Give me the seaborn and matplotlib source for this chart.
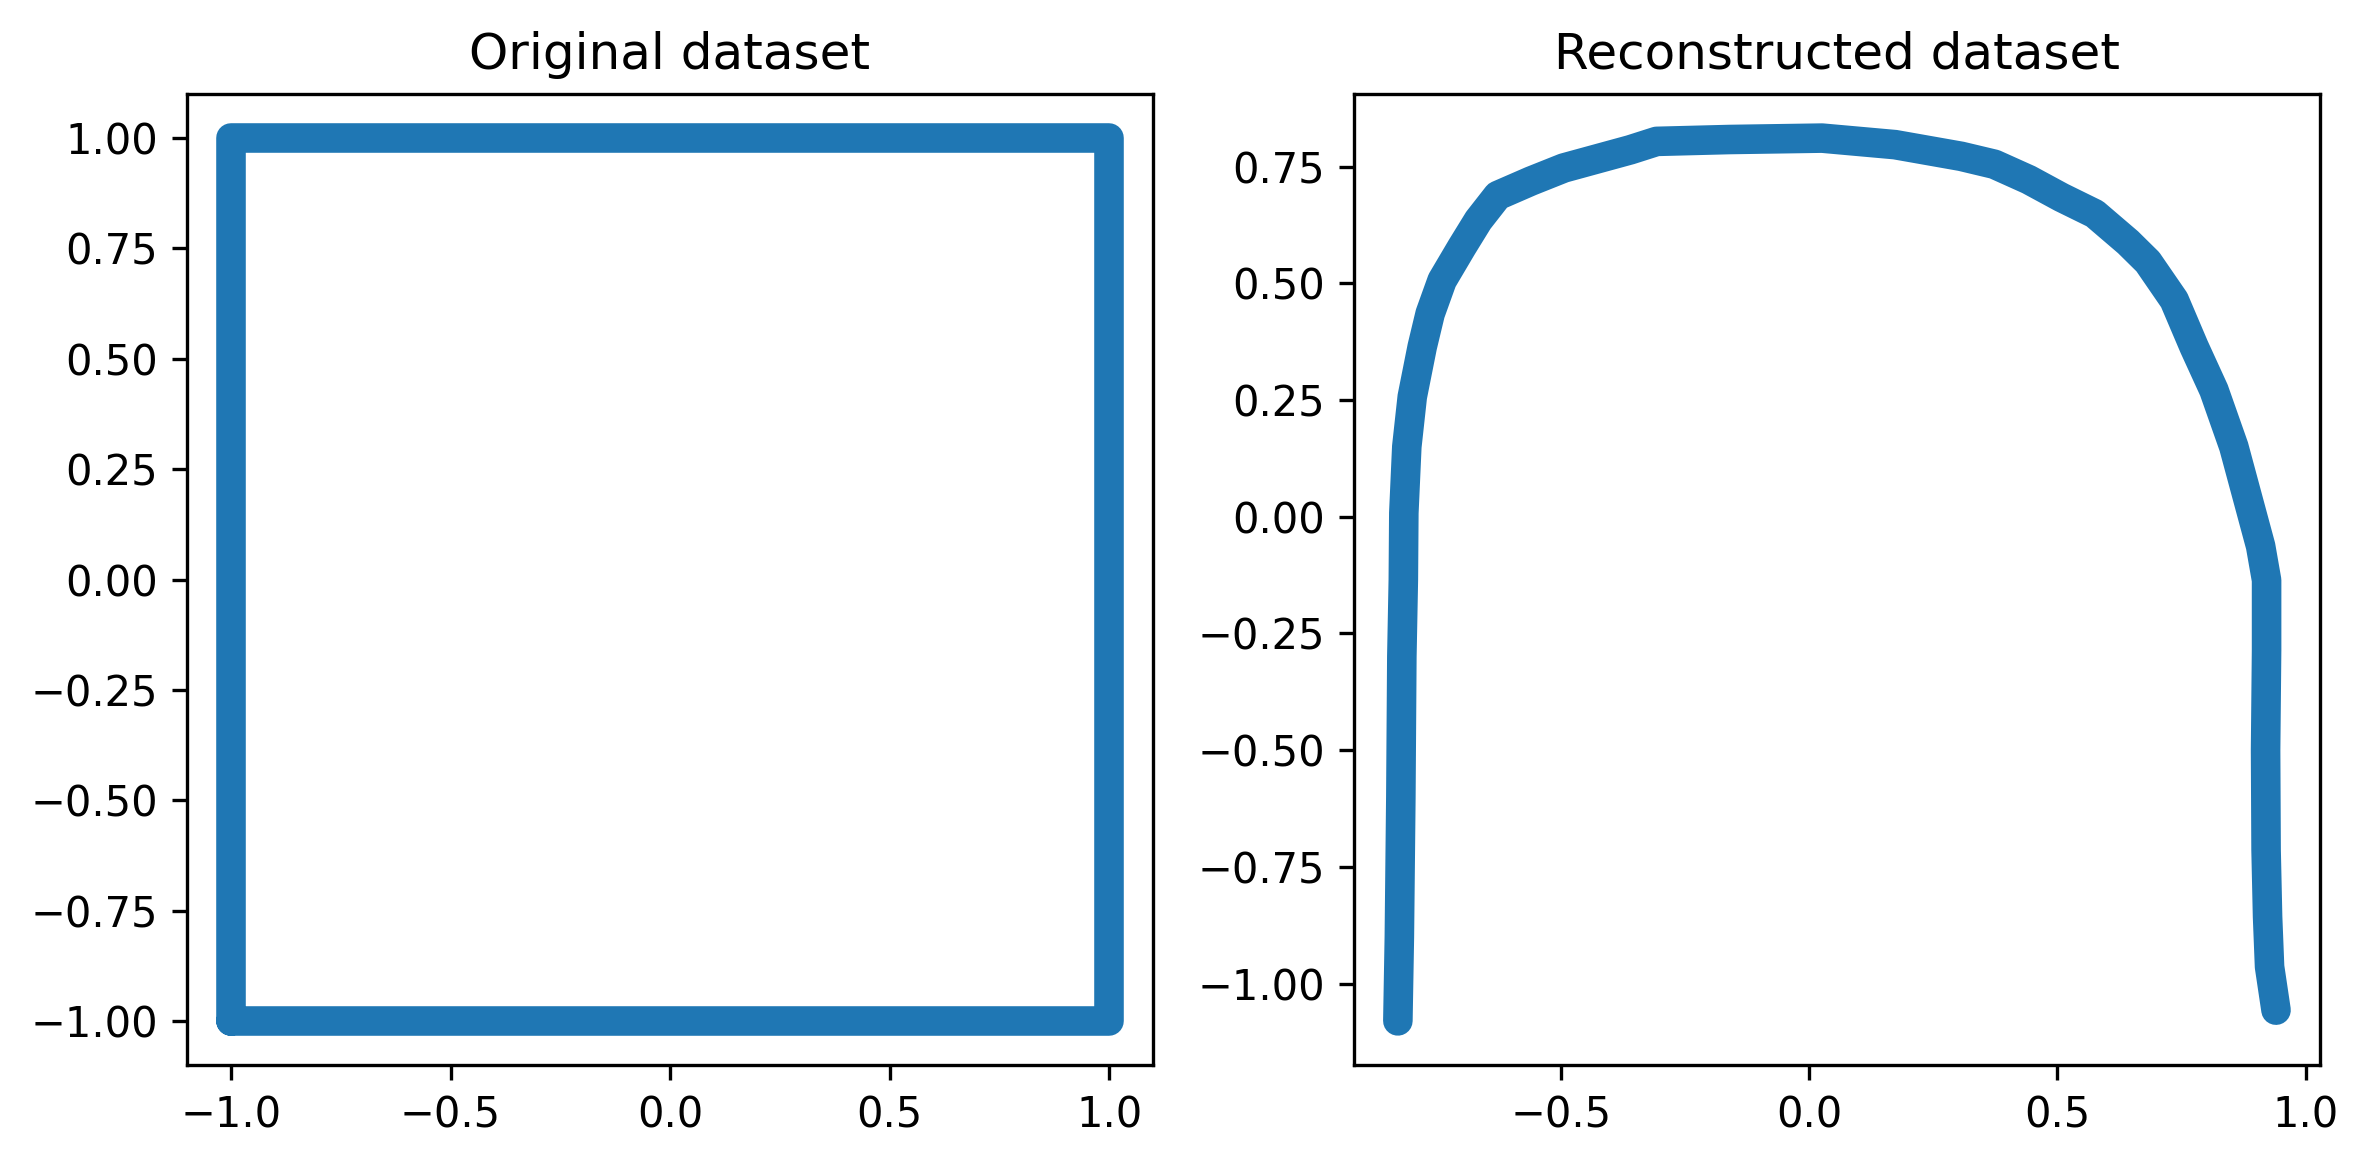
import matplotlib
matplotlib.use("Agg")
import pandas as pd
import seaborn as sns
from matplotlib import pyplot as plt

# original dataset: corners of the square (closed path)
orig_x = [-1.0, 1.0, 1.0, -1.0, -1.0]
orig_y = [-1.0, -1.0, 1.0, 1.0, -1.0]

# reconstructed dataset (bottom-left -> top -> bottom-right)
rec_x = [-0.828, -0.825, -0.822, -0.820, -0.817, -0.816, -0.810, -0.799, -0.779,
         -0.763, -0.739, -0.699, -0.666, -0.627, -0.560, -0.494, -0.360, -0.307,
         -0.161, 0.026, 0.173, 0.306, 0.373, 0.442, 0.508, 0.575, 0.642, 0.682,
         0.735, 0.775, 0.815, 0.855, 0.909, 0.921, 0.921, 0.919, 0.920, 0.923,
         0.927, 0.940]
rec_y = [-1.080, -0.900, -0.600, -0.300, -0.135, 0.008, 0.150, 0.257, 0.364,
         0.435, 0.506, 0.578, 0.635, 0.688, 0.719, 0.747, 0.786, 0.804,
         0.808, 0.811, 0.797, 0.772, 0.755, 0.722, 0.684, 0.649, 0.588, 0.546,
         0.464, 0.364, 0.271, 0.150, -0.063, -0.136, -0.286, -0.500, -0.714, -0.857,
         -0.964, -1.057]

orig = pd.DataFrame({"x": orig_x, "y": orig_y})
rec = pd.DataFrame({"x": rec_x, "y": rec_y})

fig, axes = plt.subplots(1, 2, figsize=(2368 / 300, 1166 / 300), dpi=300)
fig.subplots_adjust(left=0.0790, right=0.9797, bottom=0.0866, top=0.9194, wspace=0.208)

line_kw = dict(color="#1f77b4", linewidth=7.1, solid_capstyle="round", solid_joinstyle="round")

sns.lineplot(data=orig, x="x", y="y", sort=False, estimator=None, ax=axes[0], **line_kw)
axes[0].set_title("Original dataset")
axes[0].set_xlabel("")
axes[0].set_ylabel("")

sns.lineplot(data=rec, x="x", y="y", sort=False, estimator=None, ax=axes[1], **line_kw)
axes[1].set_title("Reconstructed dataset")
axes[1].set_xlabel("")
axes[1].set_ylabel("")

plt.savefig("out.png", dpi=300)
